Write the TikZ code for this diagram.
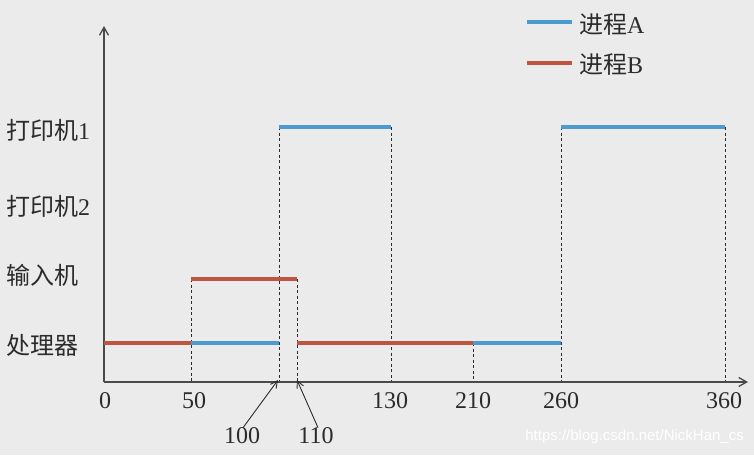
\documentclass[tikz,border=0pt]{standalone}
\usepackage{fontspec}
\setmainfont{Liberation Serif}
\newfontfamily\cjk{Noto Sans CJK SC}
\newfontfamily\wmfont{Liberation Sans}
\usetikzlibrary{arrows.meta,positioning}
\definecolor{paper}{HTML}{EBEBEB}
\definecolor{ink}{HTML}{2B2B2B}
\definecolor{axisc}{HTML}{4A4A4A}
\definecolor{procblue}{HTML}{4B9BCF}
\definecolor{procred}{HTML}{BF5440}
\tikzset{
  axis/.style={draw=axisc,line width=1.3pt,-{Straight Barb[length=8pt,width=9pt]}},
  guide/.style={draw=ink,line width=0.9pt,dash pattern=on 3pt off 2.5pt},
  runA/.style={draw=procblue,line width=4pt},
  runB/.style={draw=procred,line width=4.5pt},
  rowlbl/.style={font=\fontsize{24}{28}\selectfont,text=ink,anchor=west,inner sep=0pt},
  ticklbl/.style={font=\fontsize{24}{28}\selectfont,text=ink,inner sep=1pt},
  note/.style={draw=ink,line width=0.9pt,-{Straight Barb[length=7pt,width=7pt]}},
}
\begin{document}
\begin{tikzpicture}[x=1pt,y=-1pt]
  \fill[paper] (0,0) rectangle (754,455);
  \useasboundingbox (0,0) rectangle (754,455);
  % time marks on the x axis
  \foreach \t/\x in {0/104,50/191,100/279,110/297,130/391,210/473,260/561,360/725}
    \coordinate (t\t) at (\x,382);
  % rows
  \coordinate (prn1) at (104,127);
  \coordinate (inp) at (104,279);
  \coordinate (cpu) at (104,343);
  % guides
  \foreach \t in {100,130,260,360} \draw[guide] (t\t |- prn1) -- (t\t);
  \foreach \t in {50,110} \draw[guide] (t\t |- inp) -- (t\t);
  \draw[guide] (t210 |- cpu) -- (t210);
  % axes
  \draw[axis] (t0) -- (748,382);
  \draw[axis] (t0) -- (104,26);
  % runs
  \draw[runB] (t0 |- cpu) -- (t50 |- cpu);
  \draw[runA] (t50 |- cpu) -- (t100 |- cpu);
  \draw[runB] (t110 |- cpu) -- (t210 |- cpu);
  \draw[runA] (t210 |- cpu) -- (t260 |- cpu);
  \draw[runB] (t50 |- inp) -- (t110 |- inp);
  \draw[runA] (t100 |- prn1) -- (t130 |- prn1);
  \draw[runA] (t260 |- prn1) -- (t360 |- prn1);
  % row labels
  \node[rowlbl] (lprn1) at (6,130) {{\cjk 打印机}1};
  \node[rowlbl] (lprn2) at (6,206) {{\cjk 打印机}2};
  \node[rowlbl] (linp) at (6,275) {\cjk 输入机};
  \node[rowlbl] (lcpu) at (6,345) {\cjk 处理器};
  % tick labels
  \foreach \t/\x in {0/105,50/194,130/390,210/473,260/561,360/724}
    \node[ticklbl] (n\t) at (\x,401) {\t};
  \node[ticklbl] (n100) at (242,436) {100};
  \node[ticklbl] (n110) at (316,436) {110};
  \draw[note] ([xshift=1pt,yshift=-1pt]n100.north) -- ([xshift=-1pt,yshift=2pt]t100);
  \draw[note] ([xshift=2pt,yshift=-1pt]n110.north) -- ([yshift=2pt]t110);
  % legend
  \coordinate (kA) at (527,22);
  \coordinate (kB) at (527,63);
  \draw[runA] (kA) -- ++(45,0) coordinate (kAend);
  \draw[runB] (kB) -- ++(45,0) coordinate (kBend);
  \node[rowlbl,right=7pt of kAend,yshift=-3pt] (lA) {{\cjk 进程}A};
  \node[rowlbl,right=7pt of kBend,yshift=-2pt] (lB) {{\cjk 进程}B};
  % watermark
  \node[font=\wmfont\fontsize{15}{18}\selectfont,text=white,anchor=east,inner sep=0pt] (wm) at (744,437) {https://blog.csdn.net/NickHan\_cs};
\end{tikzpicture}
\end{document}
